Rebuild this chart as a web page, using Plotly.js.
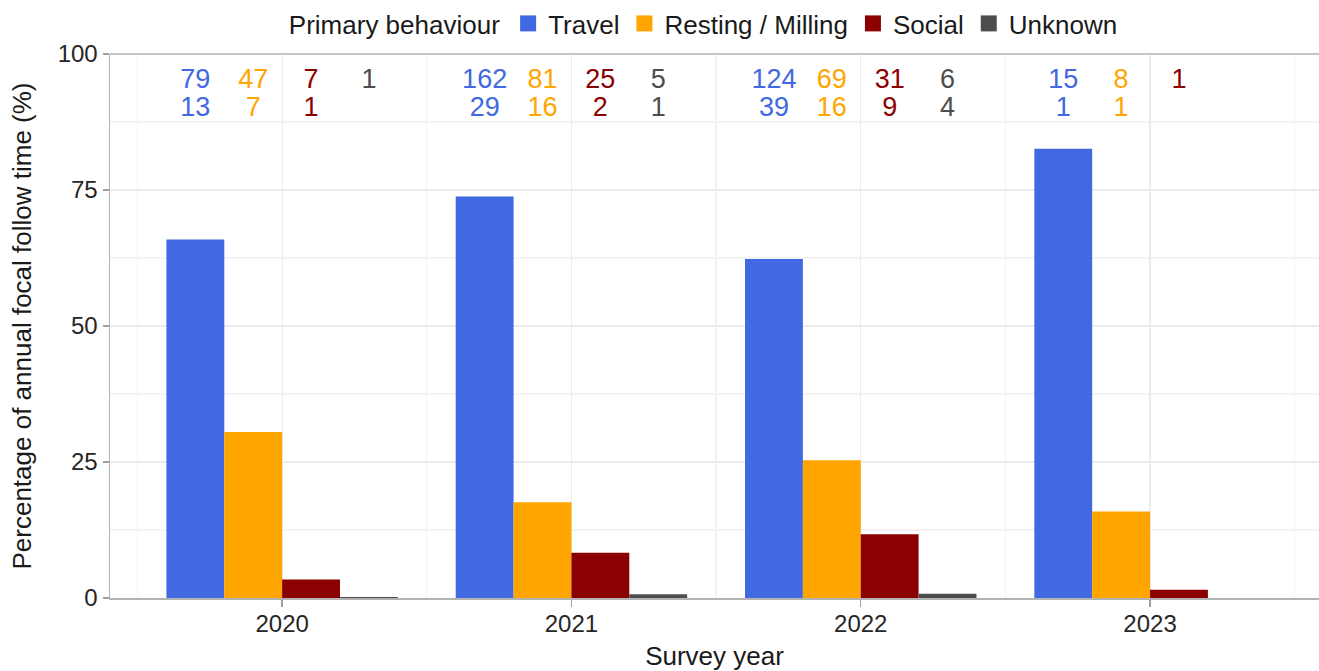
<!DOCTYPE html>
<html>
<head>
<meta charset="utf-8">
<script src="https://cdn.plot.ly/plotly-3.0.1.min.js"></script>
<style>html,body{margin:0;padding:0;background:#fff;}#chart{width:1319px;height:671px;}</style>
</head>
<body>
<div id="chart"></div>
<script>
const years = ['2020', '2021', '2022', '2023'];
const seriesNames = ['Travel', 'Resting / Milling', 'Social', 'Unknown'];
const seriesColors = ['#4169E1', '#FFA500', '#8B0000', '#4D4D4D'];

// Percentage of annual focal follow time
const travel  = [65.9, 73.8, 62.3, 82.6];
const resting = [30.5, 17.6, 25.3, 15.9];
const social  = [3.4, 8.3, 11.7, 1.5];
const unknown = [0.2, 0.7, 0.8, 0];

// Counts shown above bars (top row / bottom row)
const travelTop   = [79, 162, 124, 15];
const restingTop  = [47, 81, 69, 8];
const socialTop   = [7, 25, 31, 1];
const unknownTop  = [1, 5, 6, null];
const travelBot   = [13, 29, 39, 1];
const restingBot  = [7, 16, 16, 1];
const socialBot   = [1, 2, 9, null];
const unknownBot  = [null, 1, 4, null];

const values = [travel, resting, social, unknown];
const topCounts = [travelTop, restingTop, socialTop, unknownTop];
const botCounts = [travelBot, restingBot, socialBot, unknownBot];

const FONT = 'Liberation Sans, Arial, sans-serif';
const xIdx = years.map((_, i) => i);
const nS = seriesNames.length;
const groupWidth = 0.8;
const barW = groupWidth / nS;

const traces = [];
values.forEach((vals, k) => {
  traces.push({
    type: 'bar',
    name: seriesNames[k],
    x: xIdx,
    y: vals,
    marker: {color: seriesColors[k], line: {width: 0}},
    showlegend: false,
    hoverinfo: 'skip'
  });
});

// legend-only entries with larger square keys
seriesNames.forEach((nm, k) => {
  traces.push({
    type: 'scatter',
    mode: 'markers',
    name: nm,
    x: [null],
    y: [null],
    marker: {symbol: 'square', size: 16, color: seriesColors[k]},
    showlegend: true,
    hoverinfo: 'skip'
  });
});

const rowY = [94.9, 89.8];
[topCounts, botCounts].forEach((rows, r) => {
  rows.forEach((counts, k) => {
    const off = -groupWidth / 2 + barW * (k + 0.5);
    traces.push({
      type: 'scatter',
      mode: 'text',
      x: xIdx.map(i => i + off),
      y: counts.map(c => c === null ? null : rowY[r]),
      text: counts.map(c => c === null ? '' : String(c)),
      textposition: 'middle center',
      textfont: {family: FONT, size: 27, color: seriesColors[k]},
      showlegend: false,
      hoverinfo: 'skip',
      cliponaxis: false
    });
  });
});

const layout = {
  width: 1319,
  height: 671,
  margin: {l: 110, r: 0, t: 53, b: 73},
  paper_bgcolor: '#ffffff',
  plot_bgcolor: '#ffffff',
  font: {family: FONT, color: '#1a1a1a'},
  barmode: 'group',
  bargap: 0.2,
  bargroupgap: 0,
  showlegend: true,
  legend: {
    orientation: 'h',
    x: 0.492, xanchor: 'center',
    y: 1.057, yanchor: 'middle',
    font: {family: FONT, size: 26, color: '#1a1a1a'},
    title: {text: 'Primary behaviour', side: 'left', font: {family: FONT, size: 26, color: '#1a1a1a'}},
    traceorder: 'normal',
    itemwidth: 30,
    itemsizing: 'trace',
    bgcolor: 'rgba(0,0,0,0)'
  },
  xaxis: {
    type: 'linear',
    range: [-0.595, 3.584],
    tickmode: 'array',
    tickvals: xIdx,
    ticktext: years,
    tickfont: {family: FONT, size: 24, color: '#262626'},
    ticklabelstandoff: -3,
    ticks: 'outside',
    ticklen: 7,
    tickwidth: 1.3,
    tickcolor: '#9e9e9e',
    showline: true,
    linecolor: '#b3b3b3',
    linewidth: 1.5,
    showgrid: true,
    gridcolor: '#ececec',
    gridwidth: 1.2,
    zeroline: false,
    minor: {tickmode: 'array', tickvals: [-0.5, 0.5, 1.5, 2.5, 3.5], showgrid: true, gridcolor: '#f3f3f3', gridwidth: 1.2, ticks: ''},
    title: {text: 'Survey year', font: {family: FONT, size: 26, color: '#1a1a1a'}, standoff: 10},
    automargin: false,
    fixedrange: true
  },
  yaxis: {
    range: [0, 100],
    tickmode: 'linear',
    tick0: 0,
    dtick: 25,
    tickfont: {family: FONT, size: 24, color: '#262626'},
    ticks: 'outside',
    ticklen: 6,
    tickwidth: 1.3,
    tickcolor: '#9e9e9e',
    showline: true,
    linecolor: '#b3b3b3',
    linewidth: 1.5,
    showgrid: true,
    gridcolor: '#ececec',
    gridwidth: 1.2,
    zeroline: false,
    minor: {dtick: 12.5, tick0: 0, showgrid: true, gridcolor: '#f3f3f3', gridwidth: 1.2, ticks: ''},
    title: {text: 'Percentage of annual focal follow time (%)', font: {family: FONT, size: 26, color: '#1a1a1a'}, standoff: 18},
    automargin: false,
    fixedrange: true
  },
  shapes: [{
    type: 'line', xref: 'paper', yref: 'paper',
    x0: 0, x1: 1, y0: 1, y1: 1,
    line: {color: '#b3b3b3', width: 1.5},
    layer: 'above'
  }]
};

Plotly.newPlot('chart', traces, layout, {displayModeBar: false, staticPlot: true});
</script>
</body>
</html>
